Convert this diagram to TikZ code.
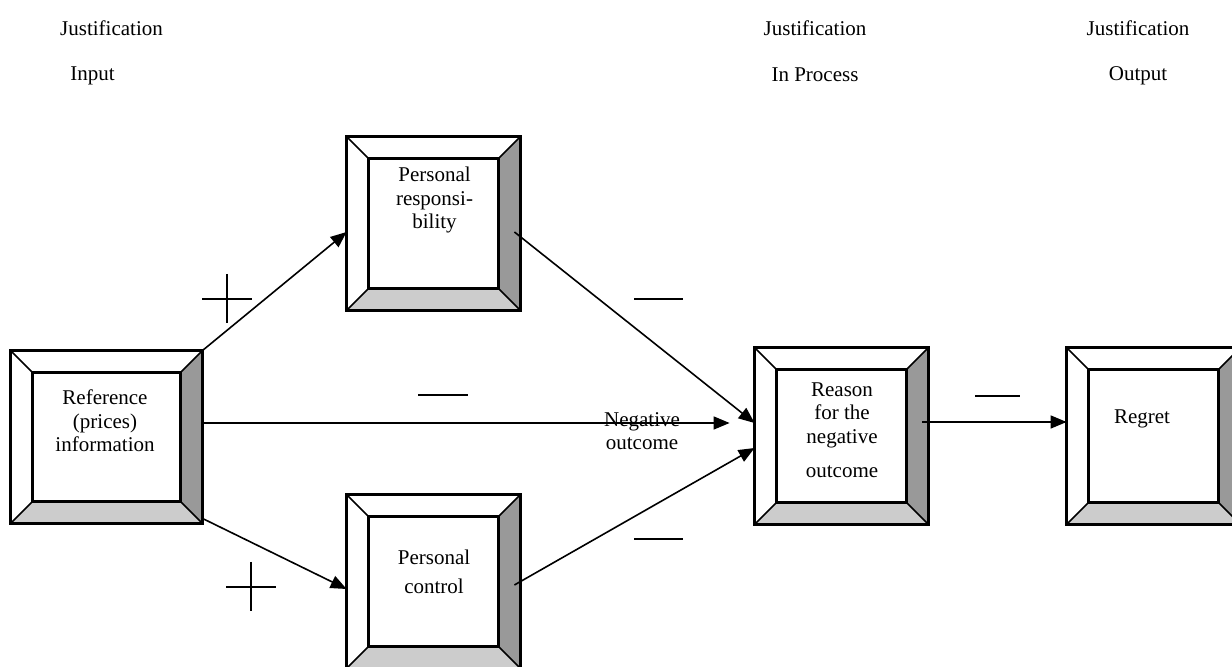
\documentclass[tikz,border=0pt]{standalone}
\usepackage{fontspec}
\setmainfont{Liberation Serif}
\usetikzlibrary{arrows.meta,calc}
\tikzset{
  bx/.style 2 args={rectangle, draw=none, inner sep=0pt, minimum width=#1*0.5pt, minimum height=#2*0.5pt},
  darkbev/.style={fill=black!40},
  lightbev/.style={fill=black!20},
  bevline/.style={line width=0.8pt},
  boxline/.style={line width=1.3pt},
  arr/.style={line width=0.8pt, -{Triangle[length=8pt,width=6.5pt]}},
  signline/.style={line width=1pt},
  txt/.style={inner sep=0pt, align=center, font=\fontsize{10.5}{11.8}\selectfont},
}
\newcommand\bevdraw[1]{%
  \path (#1.north west) ++(22,22) coordinate (#1-inw);
  \path (#1.north east) ++(-22,22) coordinate (#1-ine);
  \path (#1.south east) ++(-22,-22) coordinate (#1-ise);
  \path (#1.south west) ++(22,-22) coordinate (#1-isw);
  \fill[darkbev] (#1.north east) -- (#1.south east) -- (#1-ise) -- (#1-ine) -- cycle;
  \fill[lightbev] (#1.south east) -- (#1.south west) -- (#1-isw) -- (#1-ise) -- cycle;
  \draw[bevline] (#1.north west) -- (#1-inw) (#1.north east) -- (#1-ine)
                 (#1.south east) -- (#1-ise) (#1.south west) -- (#1-isw);
  \draw[boxline] (#1.north west) rectangle (#1.south east);
  \draw[boxline] (#1-inw) rectangle (#1-ise);
}
\begin{document}
\begin{tikzpicture}[x=0.5pt,y=-0.5pt]
\useasboundingbox (0,0) rectangle (1232,667);
% boxes
\node[bx={191}{172}] (ref) at (106.5,437) {};
\node[bx={173}{173}] (pr) at (433.5,223.5) {};
\node[bx={173}{173}] (pc) at (433.5,581.5) {};
\node[bx={173}{176}] (rs) at (841.5,436) {};
\node[bx={173}{176}] (rg) at (1153.5,436) {};
\bevdraw{ref}
\bevdraw{pr}
\bevdraw{pc}
\bevdraw{rs}
\bevdraw{rg}
% texts in boxes
\node[txt] (reft) at (105,421) {Reference\\(prices)\\information};
\node[txt] (prt) at (434.5,200) {Personal\\responsi-\\bility};
\node[txt] (pct) at (434,572) {Personal\\[2.5pt]control};
\node[txt] (rst) at (842,430) {Reason\\for the\\negative\\[5pt]outcome};
\node[txt] (rgt) at (1142,419) {Regret};
\node[txt] (neg) at (642,431) {Negative\\outcome};
% headers
\node[txt] (h1) at (111.5,28) {Justification};
\node[txt] (h1b) at (92.5,76) {Input};
\node[txt] (h2) at (815,28) {Justification};
\node[txt] (h2b) at (815,75) {In Process};
\node[txt] (h3) at (1138,28) {Justification};
\node[txt] (h3b) at (1138,76) {Output};
% connectors
\draw[arr] (ref.north east) -- ($(pr.west)+(0,8.5)$);
\draw[arr] ($(ref.south east)+(0,-5)$) -- ($(pc.west)+(0,7.5)$);
\draw[arr] ($(ref.east)+(0,-14)$) -- ($(rs.west)+(-25,-13)$);
\draw[arr] ($(pr.east)+(-6,8.5)$) -- ($(rs.west)+(0,-13)$);
\draw[arr] ($(pc.east)+(-6,3.5)$) -- ($(rs.west)+(0,12)$);
\draw[arr] ($(rs.east)+(-6,-14)$) -- ($(rg.west)+(0,-14)$);
% signs
\draw[signline] (202,299) -- (252,299) (227,274) -- (227,323);
\draw[signline] (226,587) -- (276,587) (251,562) -- (251,611);
\draw[signline] (634,299) -- (683,299);
\draw[signline] (418,395) -- (468,395);
\draw[signline] (634,539) -- (683,539);
\draw[signline] (975,396) -- (1020,396);
\end{tikzpicture}
\end{document}
